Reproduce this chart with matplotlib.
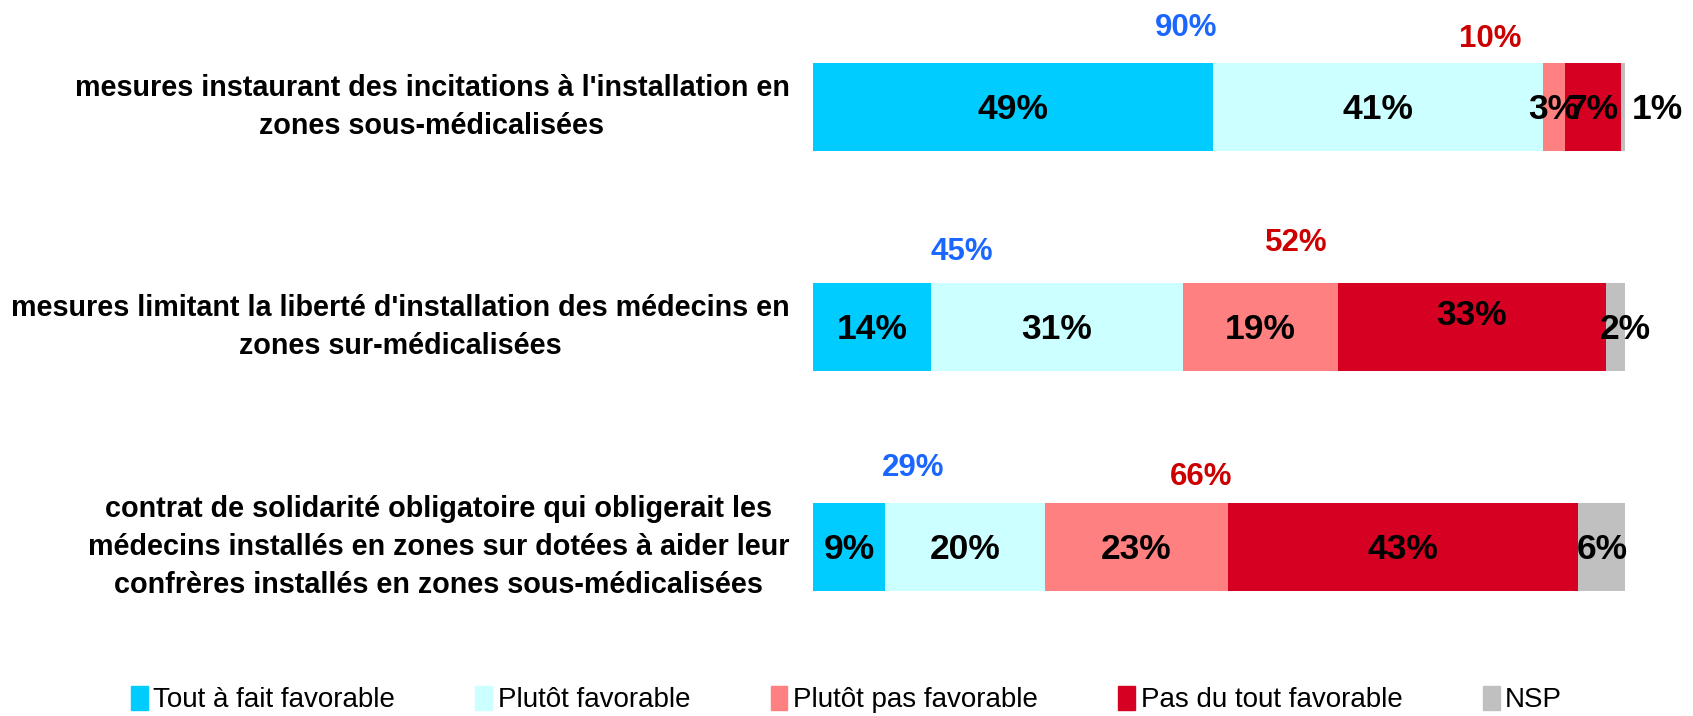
import matplotlib.pyplot as plt
from matplotlib.patches import Patch

plt.rcParams['font.family'] = ['Liberation Sans', 'DejaVu Sans']

# ========== Données ==========
questions = [
    "mesures instaurant des incitations à l'installation en\nzones sous-médicalisées",
    "mesures limitant la liberté d'installation des médecins en\nzones sur-médicalisées",
    "contrat de solidarité obligatoire qui obligerait les\nmédecins installés en zones sur dotées à aider leur\nconfrères installés en zones sous-médicalisées",
]
series = ["Tout à fait favorable", "Plutôt favorable", "Plutôt pas favorable",
          "Pas du tout favorable", "NSP"]
tout_fait_fav = [49.3, 14.5, 8.9]
plutot_fav = [40.6, 31.1, 19.7]
plutot_pas_fav = [2.7, 19.0, 22.5]
pas_du_tout_fav = [6.9, 33.1, 43.1]
nsp = [0.5, 2.3, 5.9]
seg_labels = [
    ["49%", "41%", "3%", "7%", "1%"],
    ["14%", "31%", "19%", "33%", "2%"],
    ["9%", "20%", "23%", "43%", "6%"],
]
total_fav = ["90%", "45%", "29%"]
total_defav = ["10%", "52%", "66%"]

colors = ["#00CCFF", "#CCFFFF", "#FF8080", "#D60022", "#C0C0C0"]

# positions des totaux (x en %, décalage y)
fav_pos = [(45.9, -0.36), (18.3, -0.34), (12.3, -0.36)]
defav_pos = [(83.4, -0.31), (59.5, -0.38), (47.8, -0.32)]
# petits décalages de libellés (ligne, segment): (dx, dy)
label_offsets = {(0, 4): (4.2, 0), (1, 3): (0, -0.06), (1, 4): (1.2, 0)}

fig = plt.figure(figsize=(16.93, 7.16), dpi=100)
ax = fig.add_axes([0.4802, 0.0824, 0.4796, 0.9218])

data = [tout_fait_fav, plutot_fav, plutot_pas_fav, pas_du_tout_fav, nsp]
y = list(range(len(questions)))
left = [0.0] * len(questions)
for j, vals in enumerate(data):
    ax.barh(y, vals, left=left, height=0.4, color=colors[j], label=series[j])
    for i in y:
        dx, dy = label_offsets.get((i, j), (0, 0))
        ax.text(left[i] + vals[i] / 2 + dx, i + dy + 0.01, seg_labels[i][j],
                ha='center', va='center', fontsize=25.5, fontweight='bold', color='black')
    left = [l + v for l, v in zip(left, vals)]

for i in y:
    ax.text(fav_pos[i][0], i + fav_pos[i][1], total_fav[i], ha='center', va='center',
            fontsize=22.5, fontweight='bold', color='#1A66FF')
    ax.text(defav_pos[i][0], i + defav_pos[i][1], total_defav[i], ha='center', va='center',
            fontsize=22.5, fontweight='bold', color='#CC0000')
    ax.text(-2.9, i, questions[i], ha='right', va='center', multialignment='center',
            fontsize=20.7, fontweight='bold', linespacing=1.45)

ax.set_xlim(0, 100)
ax.set_ylim(2.5, -0.5)
ax.axis('off')

handles = [Patch(color=c) for c in colors]
fig.legend(handles, series, loc='lower center', bbox_to_anchor=(0.5, -0.012), ncol=5,
           frameon=False, fontsize=20, handlelength=0.6, handleheight=1.0,
           handletextpad=0.2, columnspacing=2.9, borderaxespad=0)

plt.savefig('out.png', dpi=100)
